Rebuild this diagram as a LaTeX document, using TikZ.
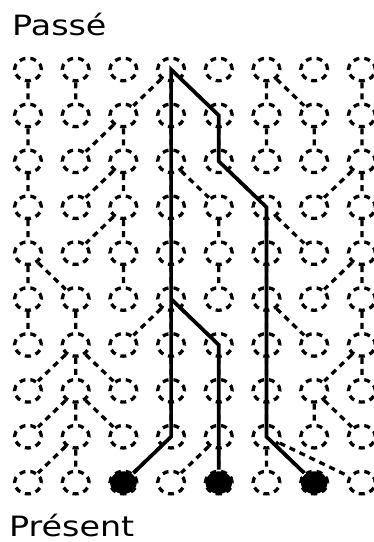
\documentclass[tikz,border=0pt]{standalone}
\usepackage{fontspec}
\setmainfont{DejaVu Sans}
\newfontfamily\timefont[FakeStretch=1.19]{DejaVu Sans}
\usetikzlibrary{shapes.geometric}

\tikzset{
  indiv/.style={ellipse,draw,dash pattern=on 6pt off 5pt,line width=3.3pt,
    minimum width=27pt,minimum height=22.5pt,inner sep=0pt},
  sampled/.style={indiv,fill=black},
  parent/.style={dash pattern=on 6pt off 5pt,line width=3.3pt},
  lineage/.style={line width=3.7pt},
  timelabel/.style={inner sep=0pt,anchor=base west,font=\timefont\fontsize{28}{32}\selectfont}
}

\begin{document}
\begin{tikzpicture}[x=1pt,y=-1pt]
\useasboundingbox (0,0) rectangle (374,542);

\node[timelabel] (past) at (12,35) {Passé};
\node[timelabel] (present) at (9,536) {Présent};

% generations 1 to 9
\foreach \r in {1,...,9}
  \foreach \c in {1,...,8}
    \node[indiv] (g\r-\c) at ({28+47.7*(\c-1)},{69.5+45.9*(\r-1)}) {};

% present generation
\node[indiv]   (g10-1) at (28,482.6) {};
\node[indiv]   (g10-2) at (75.7,482.6) {};
\node[sampled] (g10-3) at (123.4,482.6) {};
\node[indiv]   (g10-4) at (171.1,482.6) {};
\node[sampled] (g10-5) at (218.8,482.6) {};
\node[indiv]   (g10-6) at (266.5,482.6) {};
\node[sampled] (g10-7) at (314.2,482.6) {};
\node[indiv]   (g10-8) at (361.9,482.6) {};

% parents
\draw[parent] (g1-1) -- (g2-1) (g1-2) -- (g2-2) (g1-4) -- (g2-3) (g1-4) -- (g2-4)
  (g1-4) -- (g2-5) (g1-6) -- (g2-6) (g1-6) -- (g2-7) (g1-8) -- (g2-8);
\draw[parent] (g2-1) -- (g3-1) (g2-3) -- (g3-2) (g2-3) -- (g3-3) (g2-4) -- (g3-4)
  (g2-5) -- (g3-5) (g2-6) -- (g3-6) (g2-7) -- (g3-7) (g2-8) -- (g3-8);
\draw[parent] (g3-1) -- (g4-1) (g3-3) -- (g4-2) (g3-3) -- (g4-3) (g3-4) -- (g4-4)
  (g3-4) -- (g4-5) (g3-5) -- (g4-6) (g3-8) -- (g4-7) (g3-8) -- (g4-8);
\draw[parent] (g4-1) -- (g5-1) (g4-3) -- (g5-2) (g4-3) -- (g5-3) (g4-4) -- (g5-4)
  (g4-5) -- (g5-5) (g4-6) -- (g5-6) (g4-6) -- (g5-7) (g4-8) -- (g5-8);
\draw[parent] (g5-1) -- (g6-1) (g5-1) -- (g6-2) (g5-3) -- (g6-3) (g5-4) -- (g6-4)
  (g5-5) -- (g6-5) (g5-6) -- (g6-6) (g5-8) -- (g6-7) (g5-8) -- (g6-8);
\draw[parent] (g6-1) -- (g7-1) (g6-2) -- (g7-2) (g6-4) -- (g7-3) (g6-4) -- (g7-4)
  (g6-4) -- (g7-5) (g6-6) -- (g7-6) (g6-6) -- (g7-7) (g6-8) -- (g7-8);
\draw[parent] (g7-2) -- (g8-1) (g7-2) -- (g8-2) (g7-2) -- (g8-3) (g7-4) -- (g8-4)
  (g7-5) -- (g8-5) (g7-6) -- (g8-6) (g7-8) -- (g8-7) (g7-8) -- (g8-8);
\draw[parent] (g8-2) -- (g9-1) (g8-2) -- (g9-2) (g8-2) -- (g9-3) (g8-4) -- (g9-4)
  (g8-5) -- (g9-5) (g8-6) -- (g9-6) (g8-7) -- (g9-7) (g8-7) -- (g9-8);
\draw[parent] (g9-2) -- (g10-1) (g9-2) -- (g10-2) (g9-4) -- (g10-3) (g9-5) -- (g10-4)
  (g9-5) -- (g10-5) (g9-6) -- (g10-6) (g9-6) -- (g10-7) (g9-6) -- (g10-8);

% ancestry of the sample
\draw[lineage] (g10-3) -- (g9-4.center) -- (g1-4.center) -- (g2-5.center)
  -- (g3-5.center) -- (g4-6.center) -- (g9-6.center) -- (g10-7);
\draw[lineage] (g10-5) -- (g7-5.center) -- (g6-4.center);

\end{tikzpicture}
\end{document}
